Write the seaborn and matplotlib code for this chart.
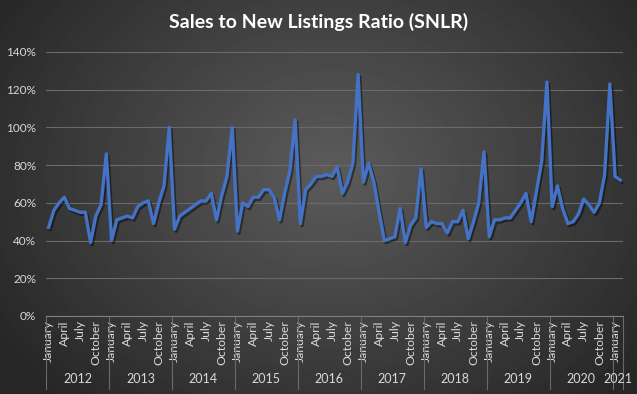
import numpy as np
import pandas as pd
import matplotlib
matplotlib.use("Agg")
import matplotlib.pyplot as plt
import matplotlib.patheffects as pe
from matplotlib.ticker import PercentFormatter
import seaborn as sns

# monthly SNLR values (%), Jan 2012 .. Feb 2021
snlr = [
    47, 56, 60, 63, 57, 56, 55, 55, 39, 53, 59, 86,      # 2012
    40, 51, 52, 53, 52, 58, 60, 61, 49, 60, 69, 100,     # 2013
    46, 53, 55, 57, 59, 61, 61, 65, 51, 64, 74, 100,     # 2014
    45, 60, 58, 63, 63, 67, 67, 63, 51, 65, 77, 104,     # 2015
    49, 67, 70, 74, 74, 75, 74, 79, 65, 71, 81, 128,     # 2016
    71, 81, 71, 55, 40, 41, 42, 57, 39, 48, 52, 78,      # 2017
    47, 50, 49, 49, 44, 50, 50, 56, 41, 50, 60, 87,      # 2018
    42, 51, 51, 52, 52, 56, 60, 65, 50, 66, 82, 124,     # 2019
    58, 69, 57, 49, 50, 54, 62, 59, 55, 60, 75, 123,     # 2020
    74, 72,                                              # 2021
]
years = [2012, 2013, 2014, 2015, 2016, 2017, 2018, 2019, 2020, 2021]
month_names = ['January', 'February', 'March', 'April', 'May', 'June', 'July',
               'August', 'September', 'October', 'November', 'December']
y_ticks = [0, 20, 40, 60, 80, 100, 120, 140]

df = pd.DataFrame({'idx': range(len(snlr)), 'snlr': snlr})
df['month'] = [month_names[i % 12] for i in df['idx']]

txt = '#d9d9d9'
plt.rcParams['font.family'] = ['Lato', 'DejaVu Sans']

fig = plt.figure(figsize=(6.37, 3.94), dpi=100)

# radial gradient background
bg = fig.add_axes([0, 0, 1, 1], zorder=-1)
yy, xx = np.mgrid[0:394, 0:637]
r = np.sqrt(((xx - 330) / 420.0) ** 2 + ((yy - 170) / 330.0) ** 2)
shade = np.clip(0.36 - 0.22 * r, 0.15, 0.36)
bg.imshow(shade, cmap='gray', vmin=0, vmax=1, aspect='auto', interpolation='bilinear')
bg.axis('off')

ax = fig.add_axes([46 / 637, 1 - 316 / 394, 577 / 637, 264 / 394])
ax.set_facecolor('none')

sns.lineplot(data=df, x='idx', y='snlr', ax=ax, color='#4472C4', linewidth=2.4,
             path_effects=[pe.SimpleLineShadow(offset=(1.2, -1.5), shadow_color='black', alpha=0.45),
                           pe.Normal()])

ax.set_xlim(-0.5, len(snlr) - 0.5)
ax.set_ylim(0, 140)
ax.set_yticks(y_ticks)
ax.yaxis.set_major_formatter(PercentFormatter(decimals=0))
ax.grid(axis='y', color='#6a6a6a', linewidth=0.8)
ax.set_axisbelow(True)
for s in ['top', 'right', 'left']:
    ax.spines[s].set_visible(False)
ax.spines['bottom'].set_color('#7f7f7f')
ax.spines['bottom'].set_linewidth(0.8)

tick_idx = [i for i in range(len(snlr)) if i % 3 == 0]
ax.set_xticks(tick_idx)
ax.set_xticklabels([df['month'][i] for i in tick_idx], rotation=90, va='top', ha='center')
ax.tick_params(axis='x', length=0, pad=3, labelsize=8.8, colors=txt)
ax.tick_params(axis='y', length=0, pad=7, labelsize=8.5, colors=txt)
ax.set_xlabel('')
ax.set_ylabel('')

# year group labels and separators
trans = ax.get_xaxis_transform()
for k, yr in enumerate(years):
    start = k * 12 - 0.5
    end = min(start + 12, len(snlr) - 0.5)
    ax.plot([start, start], [0, -0.275], transform=trans, color='#6a6a6a', lw=0.8, clip_on=False)
    ax.text((start + end) / 2, -0.238, str(yr), transform=trans, ha='center', va='center',
            fontsize=9, color=txt)
ax.plot([len(snlr) - 0.5] * 2, [0, -0.275], transform=trans, color='#6a6a6a', lw=0.8, clip_on=False)

fig.text(0.5, 1 - 22 / 394, 'Sales to New Listings Ratio (SNLR)', ha='center', va='center',
         fontsize=14, fontweight='bold', color='white')

fig.savefig('out.png', dpi=100)
